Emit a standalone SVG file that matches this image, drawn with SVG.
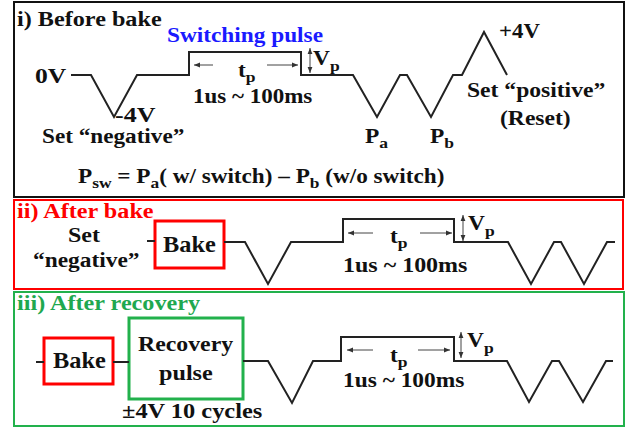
<svg xmlns="http://www.w3.org/2000/svg" width="627" height="428" viewBox="0 0 627 428">
<style>
.b{font-family:"Liberation Serif","Times New Roman",serif;font-weight:bold;font-size:20px;fill:#111}
.s{font-size:15px}
.big{font-size:23px}
.wave{fill:none;stroke:#222;stroke-width:2;stroke-linejoin:miter}
.arr{stroke:#444;stroke-width:1;fill:none}
.panel{fill:#fff;stroke-width:2}
.red{fill:#ff0000}
.grn{fill:#1fa84f}
.blu{fill:#1a1aff}
</style>
<defs>
<marker id="ah" viewBox="0 0 10 10" refX="10" refY="5" markerWidth="6" markerHeight="6" markerUnits="userSpaceOnUse" orient="auto-start-reverse">
<path d="M0,1 L10,5 L0,9 z" fill="#333"/>
</marker>
</defs>
<rect width="627" height="428" fill="#fff"/>

<g id="panel-i">
<rect class="panel" x="14" y="2" width="610" height="195" stroke="#111"/>
<text class="b" transform="translate(17,26) scale(1.21,1)">i) Before bake</text>
<text class="b blu" style="font-size:21px" transform="translate(167,42) scale(1.11,1)">Switching pulse</text>
<text class="b" transform="translate(35,83) scale(1.28,1)">0V</text>
<text class="b" transform="translate(115,122) scale(1.3,1)">-4V</text>
<text class="b" transform="translate(42,143) scale(1.16,1)">Set “negative”</text>
<text class="b" transform="translate(238,77) scale(1.17,1)">t<tspan class="s" dy="5">p</tspan></text>
<text class="b" transform="translate(193,103) scale(1.15,1)">1us ~ 100ms</text>
<text class="b" transform="translate(313,65) scale(1.17,1)">V<tspan class="s" dy="6">p</tspan></text>
<text class="b" transform="translate(499,38) scale(1.14,1)">+4V</text>
<text class="b" transform="translate(467,97) scale(1.18,1)">Set “positive”</text>
<text class="b" transform="translate(500,125) scale(1.18,1)">(Reset)</text>
<text class="b" transform="translate(365,143) scale(1.17,1)">P<tspan class="s" dy="5">a</tspan></text>
<text class="b" transform="translate(430,143) scale(1.17,1)">P<tspan class="s" dy="5">b</tspan></text>
<text class="b" transform="translate(78,183) scale(1.16,1)">P<tspan class="s" dy="5">sw</tspan><tspan dy="-5"> = P</tspan><tspan class="s" dy="5">a</tspan><tspan dy="-5">( w/ switch) – P</tspan><tspan class="s" dy="5">b</tspan><tspan dy="-5"> (w/o switch)</tspan></text>
</g>

<g id="panel-ii">
<rect class="panel" x="14" y="200" width="609" height="89" stroke="#ff0000"/>
<text class="b red" transform="translate(17,218) scale(1.21,1)">ii) After bake</text>
<text class="b" transform="translate(68,242) scale(1.2,1)">Set</text>
<text class="b" transform="translate(33,267) scale(1.17,1)">“negative”</text>
<text class="b" transform="translate(390,243) scale(1.17,1)">t<tspan class="s" dy="5">p</tspan></text>
<text class="b" transform="translate(343,272) scale(1.2,1)">1us ~ 100ms</text>
<text class="b" transform="translate(468,230) scale(1.17,1)">V<tspan class="s" dy="6">p</tspan></text>
</g>

<g id="bake-ii">
<rect x="155" y="221" width="69" height="47" fill="#fff" stroke="#ff0000" stroke-width="3"/>
<text class="b big" transform="translate(163,252) scale(1.06,1)">Bake</text>
</g>

<g id="panel-iii">
<rect class="panel" x="14" y="292" width="610" height="134" stroke="#22b14c"/>
<text class="b grn" transform="translate(17,310) scale(1.21,1)">iii) After recovery</text>
<text class="b" transform="translate(122,418) scale(1.22,1)">±4V 10 cycles</text>
<text class="b" transform="translate(390,362) scale(1.17,1)">t<tspan class="s" dy="5">p</tspan></text>
<text class="b" transform="translate(343,387) scale(1.17,1)">1us ~ 100ms</text>
<text class="b" transform="translate(467,347) scale(1.17,1)">V<tspan class="s" dy="6">p</tspan></text>
</g>

<g id="bake-iii">
<rect x="44" y="338" width="69" height="46" fill="#fff" stroke="#ff0000" stroke-width="3"/>
<text class="b big" transform="translate(53,368) scale(1.06,1)">Bake</text>
</g>

<g id="recovery-pulse">
<rect x="129" y="318" width="114" height="81" fill="#fff" stroke="#22b14c" stroke-width="3"/>
<text class="b" transform="translate(138,351) scale(1.19,1)">Recovery</text>
<text class="b" transform="translate(159,380) scale(1.21,1)">pulse</text>
</g>

<g id="connectors">
<polyline class="wave" points="71,75 91,75 114,117 137,75 189,75 189,52 301,52 301,75 353,75 377,117 400,75 407,75 431,117 453,75 462,75 484,32 507,75"/>
<line class="arr" x1="213" y1="65" x2="194" y2="65" marker-end="url(#ah)"/>
<line class="arr" x1="267" y1="65" x2="298" y2="65" marker-end="url(#ah)"/>
<line class="arr" x1="310" y1="48" x2="310" y2="73" marker-start="url(#ah)" marker-end="url(#ah)"/>

<polyline class="wave" points="147,241 155,241"/>
<polyline class="wave" points="224,242 245,242 268,284 291,242 343,242 343,219 454,219 454,242 508,242 531,284 554,242 561,242 584,284 607,242 615,242"/>
<line class="arr" x1="373" y1="233" x2="348" y2="233" marker-end="url(#ah)"/>
<line class="arr" x1="420" y1="233" x2="452" y2="233" marker-end="url(#ah)"/>
<line class="arr" x1="463" y1="215" x2="463" y2="241" marker-start="url(#ah)" marker-end="url(#ah)"/>

<polyline class="wave" points="36,362 44,362"/>
<polyline class="wave" points="113,362 129,362"/>
<polyline class="wave" points="243,361 268,361 292,403 313,361 341,361 341,337 454,337 454,361 507,361 529,402 552,361 559,361 583,402 606,361 613,361"/>
<line class="arr" x1="373" y1="350" x2="347" y2="350" marker-end="url(#ah)"/>
<line class="arr" x1="418" y1="350" x2="450" y2="350" marker-end="url(#ah)"/>
<line class="arr" x1="461" y1="332" x2="461" y2="358" marker-start="url(#ah)" marker-end="url(#ah)"/>
</g>
</svg>
